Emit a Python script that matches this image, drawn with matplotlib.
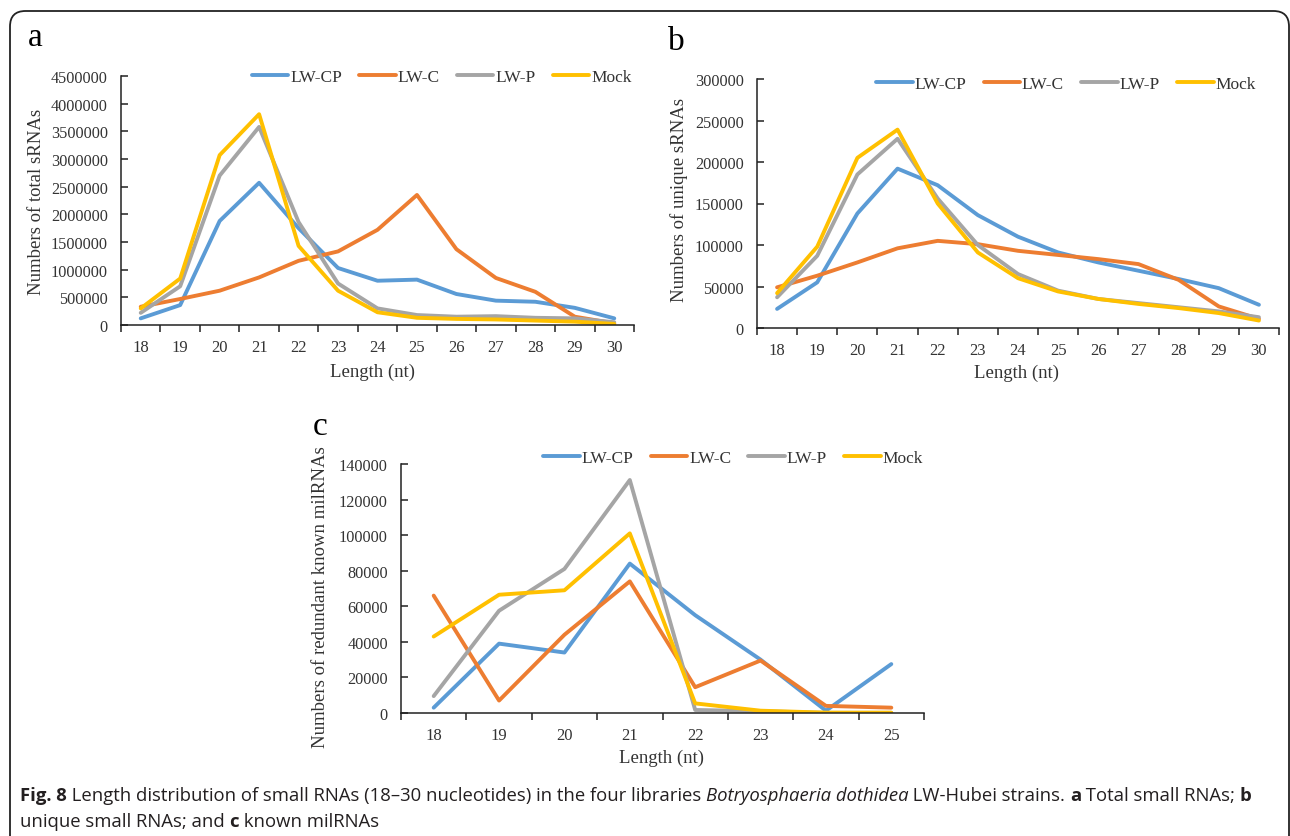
import matplotlib
matplotlib.use('Agg')
import matplotlib.pyplot as plt
from matplotlib.patches import FancyBboxPatch
import numpy as np

plt.rcParams['font.family'] = ['Liberation Serif', 'DejaVu Serif']

# ---- data ----
series = ['LW-CP', 'LW-C', 'LW-P', 'Mock']
colors = ['#5B9BD5', '#ED7D31', '#A5A5A5', '#FFC000']

len_ab = list(range(18, 31))
total_cp = [120000, 360000, 1880000, 2570000, 1750000, 1030000, 800000, 820000, 560000, 440000, 420000, 310000, 120000]
total_c = [330000, 470000, 620000, 860000, 1160000, 1330000, 1720000, 2350000, 1370000, 850000, 600000, 150000, 30000]
total_p = [220000, 700000, 2700000, 3580000, 1860000, 750000, 300000, 180000, 150000, 160000, 130000, 120000, 50000]
total_mock = [300000, 840000, 3070000, 3810000, 1430000, 620000, 230000, 130000, 110000, 100000, 80000, 60000, 20000]

uniq_cp = [23000, 55000, 138000, 192000, 172000, 136000, 110000, 91000, 79000, 69000, 59000, 48000, 28000]
uniq_c = [49000, 63000, 79000, 96000, 105000, 101000, 93000, 88000, 83000, 77000, 58000, 26000, 11000]
uniq_p = [37000, 87000, 185000, 228000, 156000, 100000, 65000, 45000, 35000, 30000, 25000, 20000, 13000]
uniq_mock = [42000, 98000, 205000, 239000, 150000, 91000, 60000, 44000, 35000, 29000, 24000, 18000, 9000]

len_c = list(range(18, 26))
mil_cp = [3000, 39000, 34000, 84000, 55000, 30000, 1300, 27500]
mil_c = [66000, 7000, 44000, 74000, 14500, 29500, 4000, 3000]
mil_p = [9500, 57500, 81000, 131000, 1700, 1000, 100, 100]
mil_mock = [43000, 66500, 69000, 101000, 5400, 1300, 200, 200]

W, H = 1290, 837
fig = plt.figure(figsize=(W / 100, H / 100), dpi=100)

txt_col = '#333333'
ax_col = '#222222'


def panel(rect, lengths, data, ymax, ystep, ylabel, leg_xy, xlab_xy, ylab_xy):
    ax = fig.add_axes(rect)
    x = np.arange(len(lengths))
    for vals, name, c in zip(data, series, colors):
        ax.plot(x, vals, color=c, lw=2.8, label=name, solid_capstyle='round')
    ax.set_xlim(-0.5, len(lengths) - 0.5)
    ax.set_ylim(0, ymax)
    ax.set_yticks(np.arange(0, ymax + 1, ystep))
    ax.set_yticklabels([str(int(v)) for v in np.arange(0, ymax + 1, ystep)])
    ax.set_xticks(x)
    ax.set_xticklabels([str(v) for v in lengths])
    ax.set_xticks(np.arange(-0.5, len(lengths), 1), minor=True)
    ax.tick_params(axis='x', which='major', length=0, pad=10, labelsize=12, labelcolor=txt_col)
    ax.tick_params(axis='x', which='minor', length=5, width=1.1, direction='out', color=ax_col)
    ax.tick_params(axis='y', length=5, width=1.1, direction='in', pad=9.5, labelsize=11.7,
                   labelcolor=txt_col, color=ax_col)
    for s in ['top', 'right']:
        ax.spines[s].set_visible(False)
    for s in ['left', 'bottom']:
        ax.spines[s].set_color(ax_col)
        ax.spines[s].set_linewidth(1.1)
    ax.set_xlabel('Length (nt)', fontsize=13.5, color=txt_col, va='center')
    ax.xaxis.set_label_coords(*xlab_xy)
    ax.set_ylabel(ylabel, fontsize=13.5, color=txt_col, va='center')
    ax.yaxis.set_label_coords(*ylab_xy)
    ax.legend(loc='center', bbox_to_anchor=leg_xy, ncol=4, frameon=False, fontsize=12.5,
              handlelength=2.1, handletextpad=0.1, columnspacing=1.0, labelcolor=txt_col)
    return ax


panel([121 / W, 1 - 326 / H, 513 / W, 249 / H], len_ab,
      [total_cp, total_c, total_p, total_mock], 4500000, 500000,
      'Numbers of total sRNAs', (0.625, 0.996), (0.49, -0.185), (-0.164, 0.498))
panel([757 / W, 1 - 329 / H, 522 / W, 249 / H], len_ab,
      [uniq_cp, uniq_c, uniq_p, uniq_mock], 300000, 50000,
      'Numbers of unique sRNAs', (0.592, 0.98), (0.498, -0.177), (-0.149, 0.518))
panel([401 / W, 1 - 714 / H, 523 / W, 249 / H], len_c,
      [mil_cp, mil_c, mil_p, mil_mock], 140000, 20000,
      'Numbers of redundant known milRNAs', (0.635, 1.024), (0.499, -0.177), (-0.153, 0.47))

# panel letters
for letter, (px, py) in zip('abc', [(35, 38), (676, 42), (320, 427)]):
    fig.text(px / W, 1 - py / H, letter, fontsize=24, ha='center', va='center', color='black')

# rounded frame around the figure
frame = FancyBboxPatch((10 / W, -0.1), 1279 / W, 1.1 - 12 / H,
                       boxstyle='round,pad=0,rounding_size=0.012',
                       transform=fig.transFigure, fill=False, ec='#222222', lw=1.3,
                       mutation_aspect=W / H)
fig.patches.append(frame)

# caption with mixed styles
fig.canvas.draw()
renderer = fig.canvas.get_renderer()
cap_font = ['Open Sans', 'DejaVu Sans']
cap_col = '#231f20'


def rich_line(pieces, x, y, size=13.3):
    for txt, kw in pieces:
        t = fig.text(x / W, 1 - y / H, txt, fontsize=size, ha='left', va='baseline',
                     family=cap_font, color=cap_col, **kw)
        x += t.get_window_extent(renderer).width


B = {'weight': 'bold'}
I = {'style': 'italic'}
N = {}
rich_line([('Fig. 8', B),
           (' Length distribution of small RNAs (18\u201330 nucleotides) in the four libraries ', N),
           ('Botryosphaeria dothidea', I),
           (' LW-Hubei strains. ', N), ('a', B), (' Total small RNAs; ', N), ('b', B)], 20, 801)
rich_line([('unique small RNAs; and ', N), ('c', B), (' known milRNAs', N)], 20, 827)

fig.savefig('out.png', dpi=100)
